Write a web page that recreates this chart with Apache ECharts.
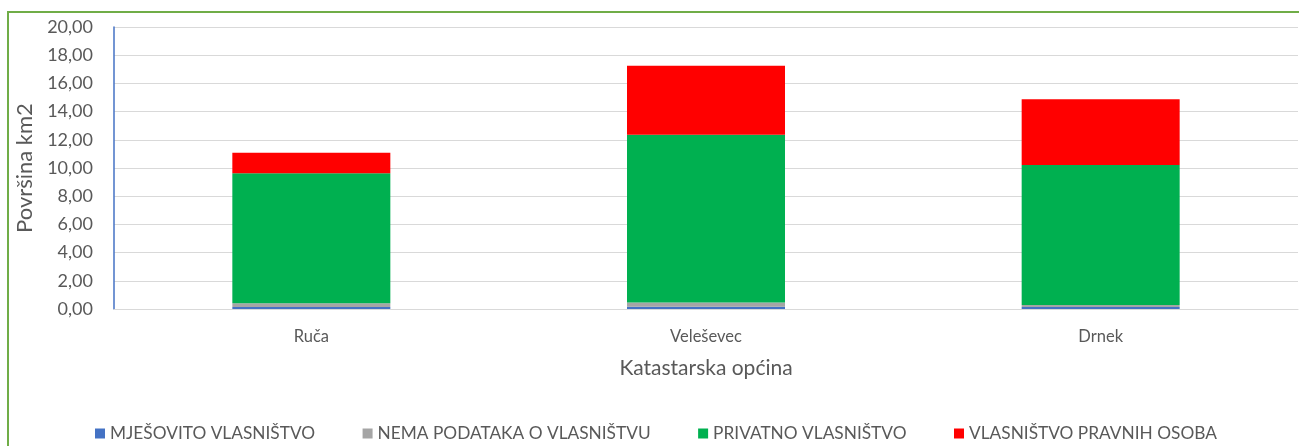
<!DOCTYPE html>
<html>
<head>
<meta charset="utf-8">
<script src="https://cdn.jsdelivr.net/npm/echarts@6/dist/echarts.min.js"></script>
<style>
  html, body { margin: 0; padding: 0; background: #fff; }
  #chart { width: 1299px; height: 446px; }
</style>
</head>
<body>
<div id="chart"></div>
<script>
// katastarske općine
const categories = ['Ruča', 'Veleševec', 'Drnek']

// površina po vrsti vlasništva (km2)
const mjesovito = [0.15, 0.16, 0.15]
const nemaPodataka = [0.25, 0.30, 0.14]
const privatno = [9.22, 11.89, 9.92]
const pravneOsobe = [1.47, 4.90, 4.67]

const seriesNames = [
  'MJEŠOVITO VLASNIŠTVO',
  'NEMA PODATAKA O VLASNIŠTVU',
  'PRIVATNO VLASNIŠTVO',
  'VLASNIŠTVO PRAVNIH OSOBA'
]
const colors = ['#4472C4', '#A5A5A5', '#00B050', '#FF0000']

const font = 'Lato, "Open Sans", sans-serif'
const textColor = '#595959'

const chart = echarts.init(document.getElementById('chart'))

const makeSeries = (name, data) => ({
  name,
  type: 'bar',
  stack: 'total',
  barWidth: 158,
  data
})

const option = {
  animation: false,
  color: colors,
  textStyle: { fontFamily: font },
  graphic: [
    {
      type: 'rect',
      shape: { x: 8, y: 12, width: 1400, height: 600 },
      style: { fill: 'none', stroke: '#70AD47', lineWidth: 2 },
      silent: true
    }
  ],
  grid: {
    left: 114,
    right: 1,
    top: 27,
    bottom: 137
  },
  legend: {
    left: 90,
    top: 420,
    itemWidth: 10,
    itemHeight: 10,
    itemGap: 47.5,
    icon: 'rect',
    textStyle: { fontSize: 17.3, color: textColor, fontFamily: font }
  },
  xAxis: {
    type: 'category',
    data: categories,
    name: 'Katastarska općina',
    nameLocation: 'middle',
    nameGap: 49,
    nameTextStyle: { fontSize: 21, color: textColor, fontFamily: font },
    axisLine: { lineStyle: { color: '#D9D9D9' } },
    axisTick: { show: false },
    axisLabel: { fontSize: 16.5, color: textColor, margin: 19 }
  },
  yAxis: {
    type: 'value',
    min: 0,
    max: 20,
    interval: 2,
    name: 'Površina km2',
    nameLocation: 'middle',
    nameGap: 75,
    nameTextStyle: { fontSize: 22, color: textColor, fontFamily: font },
    axisLine: { show: true, lineStyle: { color: '#4472C4', width: 1.5 } },
    axisTick: { show: false },
    axisLabel: {
      fontSize: 18,
      color: textColor,
      margin: 21,
      formatter: v => v.toFixed(2).replace('.', ',')
    },
    splitLine: { lineStyle: { color: '#D9D9D9' } }
  },
  series: [
    makeSeries(seriesNames[0], mjesovito),
    makeSeries(seriesNames[1], nemaPodataka),
    makeSeries(seriesNames[2], privatno),
    makeSeries(seriesNames[3], pravneOsobe)
  ]
}

chart.setOption(option)
</script>
</body>
</html>
